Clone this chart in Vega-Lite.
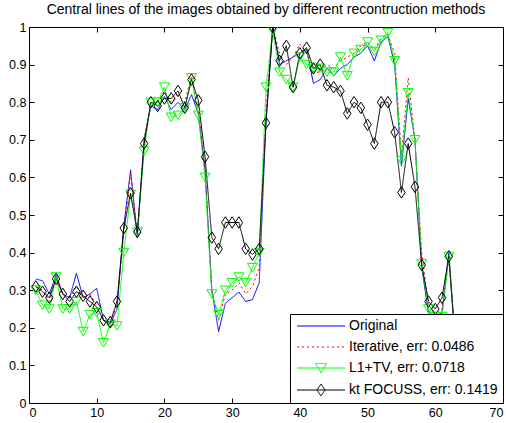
{
  "$schema": "https://vega.github.io/schema/vega-lite/v6.json",
  "width": 474,
  "height": 376,
  "autosize": "none",
  "padding": {"left": 29, "top": 27, "right": 3, "bottom": 20},
  "background": "white",
  "config": {
    "font": "Liberation Sans",
    "view": {"stroke": "black", "strokeWidth": 1},
    "axis": {"grid": false, "domain": false, "tickColor": "black", "tickSize": -5, "labelPadding": 8, "labelColor": "black", "labelFont": "Liberation Sans", "labelFontSize": 12.5, "title": null}
  },
  "title": {"text": "Central lines of the images obtained by different recontruction methods", "fontSize": 14, "fontWeight": "normal", "font": "Liberation Sans", "color": "black", "offset": 4, "anchor": "middle"},
  "data": {"values": [
    {"x":1,"orig":0.33,"iter":0.31,"l1tv":0.30,"ktf":0.31},
    {"x":2,"orig":0.325,"iter":0.30,"l1tv":0.26,"ktf":0.296},
    {"x":3,"orig":0.29,"iter":0.27,"l1tv":0.25,"ktf":0.28},
    {"x":4,"orig":0.34,"iter":0.34,"l1tv":0.335,"ktf":0.33},
    {"x":5,"orig":0.29,"iter":0.29,"l1tv":0.25,"ktf":0.29},
    {"x":6,"orig":0.28,"iter":0.28,"l1tv":0.25,"ktf":0.27},
    {"x":7,"orig":0.345,"iter":0.31,"l1tv":0.27,"ktf":0.296},
    {"x":8,"orig":0.28,"iter":0.28,"l1tv":0.19,"ktf":0.285},
    {"x":9,"orig":0.29,"iter":0.29,"l1tv":0.235,"ktf":0.27},
    {"x":10,"orig":0.305,"iter":0.26,"l1tv":0.24,"ktf":0.255},
    {"x":11,"orig":0.22,"iter":0.22,"l1tv":0.16,"ktf":0.22},
    {"x":12,"orig":0.21,"iter":0.20,"l1tv":0.21,"ktf":0.215},
    {"x":13,"orig":0.25,"iter":0.27,"l1tv":0.205,"ktf":0.27},
    {"x":14,"orig":0.47,"iter":0.45,"l1tv":0.40,"ktf":0.465},
    {"x":15,"orig":0.62,"iter":0.61,"l1tv":0.555,"ktf":0.558},
    {"x":16,"orig":0.44,"iter":0.45,"l1tv":0.455,"ktf":0.455},
    {"x":17,"orig":0.70,"iter":0.70,"l1tv":0.67,"ktf":0.69},
    {"x":18,"orig":0.79,"iter":0.80,"l1tv":0.80,"ktf":0.80},
    {"x":19,"orig":0.78,"iter":0.80,"l1tv":0.80,"ktf":0.79},
    {"x":20,"orig":0.815,"iter":0.83,"l1tv":0.84,"ktf":0.81},
    {"x":21,"orig":0.78,"iter":0.80,"l1tv":0.76,"ktf":0.81},
    {"x":22,"orig":0.80,"iter":0.82,"l1tv":0.765,"ktf":0.83},
    {"x":23,"orig":0.78,"iter":0.80,"l1tv":0.785,"ktf":0.785},
    {"x":24,"orig":0.82,"iter":0.87,"l1tv":0.865,"ktf":0.86},
    {"x":25,"orig":0.77,"iter":0.78,"l1tv":0.765,"ktf":0.805},
    {"x":26,"orig":0.62,"iter":0.62,"l1tv":0.60,"ktf":0.655},
    {"x":27,"orig":0.30,"iter":0.30,"l1tv":0.29,"ktf":0.44},
    {"x":28,"orig":0.19,"iter":0.22,"l1tv":0.235,"ktf":0.41},
    {"x":29,"orig":0.265,"iter":0.29,"l1tv":0.30,"ktf":0.48},
    {"x":30,"orig":0.28,"iter":0.30,"l1tv":0.32,"ktf":0.48},
    {"x":31,"orig":0.295,"iter":0.32,"l1tv":0.335,"ktf":0.48},
    {"x":32,"orig":0.27,"iter":0.29,"l1tv":0.32,"ktf":0.41},
    {"x":33,"orig":0.275,"iter":0.31,"l1tv":0.36,"ktf":0.395},
    {"x":34,"orig":0.32,"iter":0.36,"l1tv":0.40,"ktf":0.41},
    {"x":35,"orig":0.75,"iter":0.78,"l1tv":0.84,"ktf":0.745},
    {"x":36,"orig":1.0,"iter":1.0,"l1tv":0.99,"ktf":1.0},
    {"x":37,"orig":0.90,"iter":0.93,"l1tv":0.88,"ktf":0.91},
    {"x":38,"orig":0.91,"iter":0.90,"l1tv":0.86,"ktf":0.95},
    {"x":39,"orig":0.92,"iter":0.92,"l1tv":0.84,"ktf":0.84},
    {"x":40,"orig":0.93,"iter":0.955,"l1tv":0.92,"ktf":0.93},
    {"x":41,"orig":0.94,"iter":0.93,"l1tv":0.90,"ktf":0.945},
    {"x":42,"orig":0.85,"iter":0.88,"l1tv":0.89,"ktf":0.89},
    {"x":43,"orig":0.86,"iter":0.88,"l1tv":0.89,"ktf":0.90},
    {"x":44,"orig":0.89,"iter":0.90,"l1tv":0.88,"ktf":0.845},
    {"x":45,"orig":0.87,"iter":0.89,"l1tv":0.88,"ktf":0.84},
    {"x":46,"orig":0.89,"iter":0.91,"l1tv":0.92,"ktf":0.83},
    {"x":47,"orig":0.90,"iter":0.92,"l1tv":0.87,"ktf":0.77},
    {"x":48,"orig":0.92,"iter":0.93,"l1tv":0.93,"ktf":0.80},
    {"x":49,"orig":0.93,"iter":0.95,"l1tv":0.94,"ktf":0.785},
    {"x":50,"orig":0.95,"iter":0.96,"l1tv":0.96,"ktf":0.74},
    {"x":51,"orig":0.91,"iter":0.94,"l1tv":0.935,"ktf":0.69},
    {"x":52,"orig":0.96,"iter":0.97,"l1tv":0.965,"ktf":0.80},
    {"x":53,"orig":0.975,"iter":0.98,"l1tv":0.985,"ktf":0.80},
    {"x":54,"orig":0.90,"iter":0.93,"l1tv":0.91,"ktf":0.72},
    {"x":55,"orig":0.63,"iter":0.66,"l1tv":0.645,"ktf":0.56},
    {"x":56,"orig":0.81,"iter":0.865,"l1tv":0.825,"ktf":0.69},
    {"x":57,"orig":0.70,"iter":0.70,"l1tv":0.70,"ktf":0.575},
    {"x":58,"orig":0.36,"iter":0.40,"l1tv":0.37,"ktf":0.367},
    {"x":59,"orig":0.24,"iter":0.26,"l1tv":0.25,"ktf":0.27},
    {"x":60,"orig":0.23,"iter":0.24,"l1tv":0.23,"ktf":0.25},
    {"x":61,"orig":0.24,"iter":0.25,"l1tv":0.23,"ktf":0.28},
    {"x":62,"orig":0.40,"iter":0.38,"l1tv":0.39,"ktf":0.39},
    {"x":63,"orig":0.15,"iter":0.15,"l1tv":0.15,"ktf":0.15}
  ]},
  "transform": [{"fold": ["orig", "iter", "l1tv", "ktf"], "as": ["series", "y"]}],
  "layer": [
    {
      "mark": {"type": "line", "strokeWidth": 1, "clip": true},
      "encoding": {
        "x": {"field": "x", "type": "quantitative", "scale": {"domain": [0, 70], "nice": false}, "axis": {"orient": "bottom", "values": [0,10,20,30,40,50,60,70]}},
        "y": {"field": "y", "type": "quantitative", "scale": {"domain": [0, 1], "nice": false}, "axis": {"orient": "left", "values": [0,0.1,0.2,0.3,0.4,0.5,0.6,0.7,0.8,0.9,1], "labelExpr": "datum.value == 0 || datum.value == 1 ? format(datum.value, 'd') : format(datum.value, '.1f')"}},
        "color": {"field": "series", "type": "nominal", "sort": ["orig", "iter", "l1tv", "ktf"],
          "scale": {"domain": ["orig", "iter", "l1tv", "ktf"], "range": ["#0000ff", "#ff0000", "#00ff00", "#000000"]},
          "legend": {
            "title": null, "orient": "bottom-right", "offset": 0, "strokeColor": "black", "fillColor": "white",
            "padding": 5, "labelFont": "Liberation Sans", "labelFontSize": 14, "labelColor": "black",
            "symbolSize": 100, "labelOffset": 40, "rowPadding": 7,
            "labelExpr": "datum.value == 'orig' ? 'Original' : datum.value == 'iter' ? 'Iterative, err: 0.0486' : datum.value == 'l1tv' ? 'L1+TV, err: 0.0718' : 'kt FOCUSS, err: 0.1419'",
            "encode": {"symbols": {"update": {
              "shape": {"signal": "datum.value == 'l1tv' ? 'M-1,0H8.6M2.7,-0.9H4.9L3.8,1Z' : datum.value == 'ktf' ? 'M-1,0H8.6M3.8,-1.2L4.6,0L3.8,1.2L3,0Z' : 'M-1,0H8.6'"},
              "strokeDash": {"signal": "datum.value == 'iter' ? [2, 3] : [1, 0]"},
              "fill": {"value": "transparent"},
              "strokeWidth": {"value": 1},
              "opacity": {"value": 1}
            }}}
          }
        },
        "strokeDash": {"field": "series", "type": "nominal", "scale": {"domain": ["orig", "iter", "l1tv", "ktf"], "range": [[1, 0], [2, 3], [1, 0], [1, 0]]}, "legend": null}
      }
    },
    {
      "transform": [{"filter": "datum.series == 'l1tv' || datum.series == 'ktf'"}],
      "mark": {"type": "point", "filled": false, "strokeWidth": 1, "size": 100, "opacity": 1, "clip": true},
      "encoding": {
        "x": {"field": "x", "type": "quantitative", "axis": {"orient": "top", "labels": false, "values": [0,10,20,30,40,50,60,70]}},
        "y": {"field": "y", "type": "quantitative", "axis": {"orient": "right", "labels": false, "values": [0,0.1,0.2,0.3,0.4,0.5,0.6,0.7,0.8,0.9,1]}},
        "color": {"field": "series", "type": "nominal", "sort": ["orig", "iter", "l1tv", "ktf"]},
        "shape": {"field": "series", "type": "nominal", "scale": {"domain": ["l1tv", "ktf"], "range": ["M-1,-0.85H1L0,0.85Z", "M0,-1.15L0.75,0L0,1.15L-0.75,0Z"]}, "legend": null}
      }
    }
  ],
  "resolve": {"axis": {"x": "independent", "y": "independent"}}
}
